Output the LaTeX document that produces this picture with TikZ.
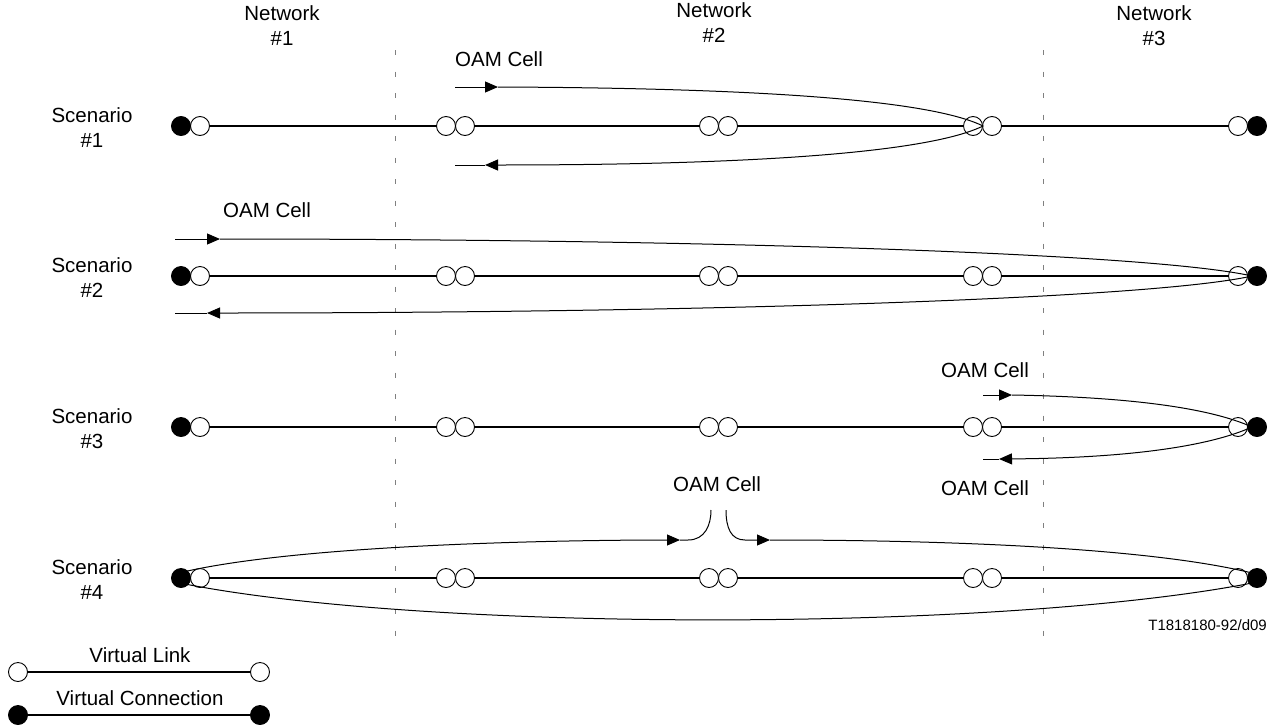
\documentclass[tikz,border=0pt]{standalone}
\usepackage{fontspec}
\setmainfont{Liberation Sans}
\usepackage{tikz}
\usetikzlibrary{positioning,arrows.meta,calc,backgrounds}
\tikzset{
  vlk/.style   ={circle, draw=black, line width=0.9pt, fill=white,
                 minimum size=19pt, inner sep=0pt},
  vcn/.style   ={vlk, fill=black},
  vline/.style ={line width=1.8pt, draw=black},
  cell/.style  ={line width=1pt, draw=black},
  cflow/.style ={cell, -{Triangle[length=13pt,width=11pt]}},
  lbl/.style   ={font=\fontsize{20.5}{25}\selectfont, align=center, inner sep=0pt},
  tag/.style   ={font=\fontsize{15}{18}\selectfont, inner sep=0pt},
  border/.style={draw=gray, line width=0.9pt, dash pattern=on 5pt off 16.5pt},
}

\begin{document}
\begin{tikzpicture}[x=1pt, y=-1pt]
  \useasboundingbox (0,0) rectangle (1273,726);
  % network headings
  \node[lbl] (n1) at (282,26) {Network\\\#1};
  \node[lbl] (n2) at (714,23) {Network\\\#2};
  \node[lbl] (n3) at (1154,26) {Network\\\#3};
  \coordinate (b1t) at (395,50);  \coordinate (b1b) at (395,636);
  \coordinate (b2t) at (1043,50); \coordinate (b2b) at (1043,636);
  % the four scenarios
  \foreach \r/\y in {1/126,2/276,3/427,4/578} {
    \node[lbl] (sc\r) at (92,\y+2) {Scenario\\\#\r};
    \node[vcn] (vcl\r) at (181,\y) {};
    \node[vlk] (vll\r) at (200,\y) {};
    \foreach \x [count=\i] in {446,709,973} {
      \node[vlk] (pa\r\i) at (\x,\y) {};
      \node[vlk] (pb\r\i) at (\x+19,\y) {};
    }
    \node[vlk] (vlr\r) at (1238,\y) {};
    \node[vcn] (vcr\r) at (1257,\y) {};
    \begin{pgfonlayer}{background}
      \draw[vline] (vll\r) -- (vlr\r);
    \end{pgfonlayer}
  }
  \begin{pgfonlayer}{background}
    \draw[border] (b1t) -- (b1b);
    \draw[border] (b2t) -- (b2b);
  \end{pgfonlayer}
  % scenario 1: looped back in network #2
  \node[lbl] (o1) at (499,59) {OAM Cell};
  \coordinate (c1s) at (455,87);  \coordinate (c1a) at (498,87);
  \coordinate (c1t) at (983,126);
  \coordinate (c1b) at (485,165); \coordinate (c1e) at (455,165);
  \draw[cflow] (c1s) -- (c1a);
  \draw[cflow] (c1a) .. controls (760,88) and (930,100) .. (c1t)
               .. controls (930,152) and (760,165) .. (c1b);
  \draw[cell] (c1b) -- (c1e);
  % scenario 2: looped back at the far end
  \node[lbl] (o2) at (267,210) {OAM Cell};
  \coordinate (c2s) at (175,239);  \coordinate (c2a) at (220,239);
  \coordinate (c2t) at (1252,276);
  \coordinate (c2b) at (207,313);  \coordinate (c2e) at (175,313);
  \draw[cflow] (c2s) -- (c2a);
  \draw[cflow] (c2a) .. controls (700,239) and (1150,253) .. (c2t)
               .. controls (1150,299) and (700,313) .. (c2b);
  \draw[cell] (c2b) -- (c2e);
  % scenario 3: short loop in network #3
  \node[lbl] (o3a) at (985,370) {OAM Cell};
  \node[lbl] (o3b) at (985,488) {OAM Cell};
  \coordinate (c3s) at (983,395);  \coordinate (c3a) at (1012,395);
  \coordinate (c3t) at (1252,427);
  \coordinate (c3b) at (999,459);  \coordinate (c3e) at (983,459);
  \draw[cflow] (c3s) -- (c3a);
  \draw[cflow] (c3a) .. controls (1130,397) and (1210,408) .. (c3t)
               .. controls (1210,446) and (1130,458) .. (c3b);
  \draw[cell] (c3b) -- (c3e);
  % scenario 4: end to end, taken out in the middle
  \node[lbl] (o4) at (717,484) {OAM Cell};
  \coordinate (c4l) at (183,572);  \coordinate (c4a) at (680,540);
  \coordinate (c4u) at (711,510);  \coordinate (c4v) at (726,510);
  \coordinate (c4d) at (770,540);  \coordinate (c4r) at (1252,573);
  \coordinate (c4q) at (1252,583); \coordinate (c4m) at (185,584);
  \draw[cflow] (c4l) .. controls (300,545) and (550,540) .. (c4a);
  \draw[cell] (c4a) -- (688,540) .. controls (705,540) and (711,525) .. (c4u);
  \draw[cflow] (c4v) .. controls (726,528) and (731,540) .. (745,540) -- (c4d);
  \draw[cell] (c4d) .. controls (950,540) and (1150,548) .. (c4r);
  \draw[cell] (c4q) .. controls (1000,632) and (430,632) .. (c4m);
  \node[tag, anchor=east] (ref) at (1267,625) {T1818180-92/d09};
  % legend
  \node[lbl] (kl) at (140,655) {Virtual Link};
  \node[vlk] (kl1) at (18,672) {};
  \node[vlk] (kl2) at (260,672) {};
  \draw[vline] (kl1) -- (kl2);
  \node[lbl] (kc) at (140,698) {Virtual Connection};
  \node[vcn] (kc1) at (18,715) {};
  \node[vcn] (kc2) at (260,715) {};
  \draw[vline] (kc1) -- (kc2);
\end{tikzpicture}
\end{document}
